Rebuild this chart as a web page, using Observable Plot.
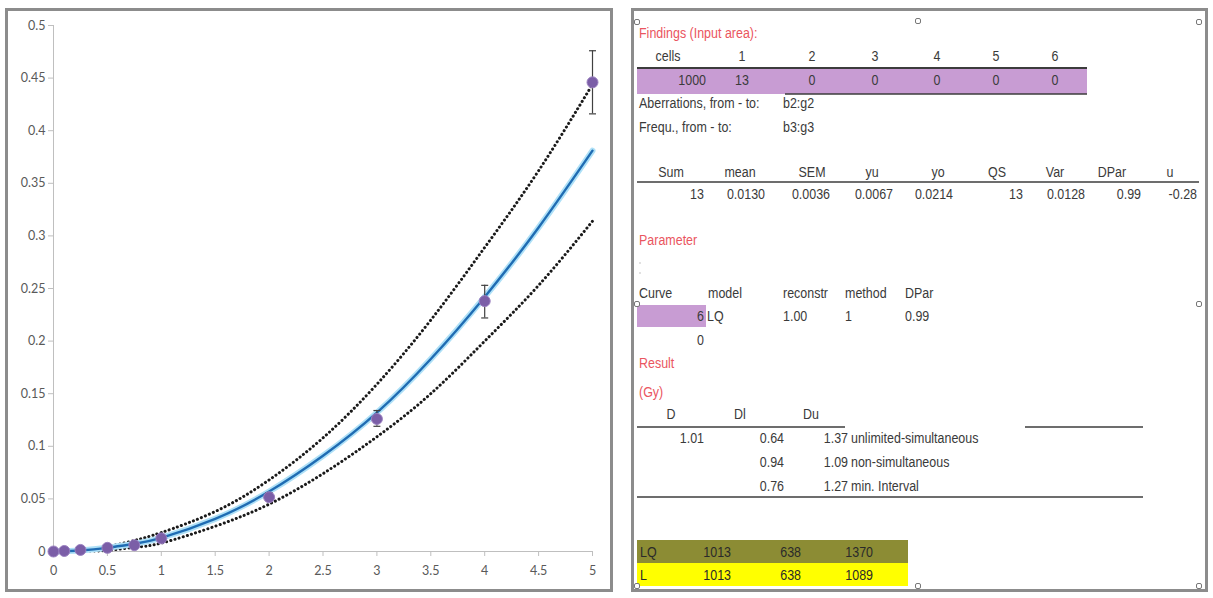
<!DOCTYPE html>
<html>
<head>
<meta charset="utf-8">
<script src="https://cdn.jsdelivr.net/npm/d3@7"></script>
<script src="https://cdn.jsdelivr.net/npm/@observablehq/plot@0.6"></script>
<style>
  html, body { margin: 0; padding: 0; background: #fff; }
  body { width: 1213px; height: 598px; position: relative; overflow: hidden; }
  #left { position: absolute; left: 5px; top: 8px; width: 602px; height: 578px; border: 3px solid #8c8c8c; background: #fff; }
  #right { position: absolute; left: 631px; top: 8px; width: 571px; height: 578px; border: 3px solid #8c8c8c; background: #fff; }
  #table { position: absolute; left: 0; top: 0; }
</style>
</head>
<body>
<div id="left"></div>
<div id="right"></div>
<svg id="table" width="1213" height="598"></svg>
<script>
// ---------- chart data ----------
const obsDose = [0, 0.1, 0.25, 0.5, 0.75, 1, 2, 3, 4, 5];
const obsFreq = [0, 0.0005, 0.0015, 0.0035, 0.006, 0.0125, 0.0516, 0.126, 0.238, 0.446];
const obsLow  = [null, null, null, null, null, null, 0.048, 0.119, 0.222, 0.416];
const obsHigh = [null, null, null, null, null, null, 0.056, 0.134, 0.253, 0.476];

const fitDose = [0, 0.25, 0.5, 0.75, 1, 1.5, 2, 2.5, 3, 3.5, 4, 4.5, 5];
const fitFreq = [0, 0.001, 0.0035, 0.0073, 0.013, 0.031, 0.057, 0.091, 0.132, 0.183, 0.242, 0.308, 0.381];

const bandDose  = [0.3, 0.5, 0.75, 1, 1.5, 2, 2.5, 3, 3.5, 4, 4.5, 5];
const bandUpper = [0.002, 0.0045, 0.0105, 0.018, 0.038, 0.068, 0.108, 0.159, 0.220, 0.289, 0.362, 0.444];
const bandLower = [0.0005, 0.001, 0.004, 0.008, 0.024, 0.045, 0.074, 0.109, 0.150, 0.200, 0.253, 0.314];

const xTicks = [0, 0.5, 1, 1.5, 2, 2.5, 3, 3.5, 4, 4.5, 5];
const yTicks = [0, 0.05, 0.1, 0.15, 0.2, 0.25, 0.3, 0.35, 0.4, 0.45, 0.5];

// ---------- table data ----------
const findingsTitle = "Findings (Input area):";
const findingsHeader = ["cells", "1", "2", "3", "4", "5", "6"];
const findingsValues = ["1000", "13", "0", "0", "0", "0", "0"];
const rangeLabels = [["Aberrations, from - to:", "b2:g2"], ["Frequ., from - to:", "b3:g3"]];
const statsHeader = ["Sum", "mean", "SEM", "yu", "yo", "QS", "Var", "DPar", "u"];
const statsValues = ["13", "0.0130", "0.0036", "0.0067", "0.0214", "13", "0.0128", "0.99", "-0.28"];
const parameterTitle = "Parameter";
const paramHeader = ["Curve", "model", "reconstr", "method", "DPar"];
const paramValues = ["6", "LQ", "1.00", "1", "0.99"];
const paramExtra = "0";
const resultTitle = "Result";
const unitTitle = "(Gy)";
const resultHeader = ["D", "Dl", "Du"];
const resultRows = [
  ["1.01", "0.64", "1.37", "unlimited-simultaneous"],
  ["", "0.94", "1.09", "non-simultaneous"],
  ["", "0.76", "1.27", "min.  Interval"]
];
const summaryRows = [
  ["LQ", "1013", "638", "1370"],
  ["L", "1013", "638", "1089"]
];

// ---------- chart ----------
const obs = obsDose.map((d, i) => ({dose: d, freq: obsFreq[i], lo: obsLow[i], hi: obsHigh[i]}));
const errs = obs.filter(d => d.lo != null);
const fit = fitDose.map((d, i) => ({dose: d, freq: fitFreq[i]}));
const band = bandDose.map((d, i) => ({dose: d, upper: bandUpper[i], lower: bandLower[i]}));

const capSymbol = {
  draw(context) { context.moveTo(-3.5, 0); context.lineTo(3.5, 0); }
};
const fmt = d => String(+d.toFixed(2));

const chart = Plot.plot({
  width: 602,
  height: 578,
  marginLeft: 45,
  marginRight: 18,
  marginTop: 14,
  marginBottom: 38,
  style: {fontFamily: "Lato, 'Open Sans', sans-serif", fontSize: "12.5px", background: "#fff"},
  x: {domain: [0, 5]},
  y: {domain: [0, 0.5]},
  marks: [
    Plot.axisX({ticks: xTicks, tickFormat: fmt, tickSize: 5, tickPadding: 10, stroke: "#bfbfbf", fill: "#595959", label: null}),
    Plot.axisY({ticks: yTicks, tickFormat: fmt, tickSize: 5, tickPadding: 3, stroke: "#bfbfbf", fill: "#595959", label: null}),
    Plot.ruleX([0], {stroke: "#bfbfbf"}),
    Plot.ruleY([0], {stroke: "#bfbfbf"}),
    Plot.line(band, {x: "dose", y: "upper", curve: "natural", stroke: "#1a1a1a", strokeWidth: 3, strokeDasharray: "0.1 4.2", strokeLinecap: "round"}),
    Plot.line(band, {x: "dose", y: "lower", curve: "natural", stroke: "#1a1a1a", strokeWidth: 3, strokeDasharray: "0.1 4.2", strokeLinecap: "round"}),
    Plot.line(fit, {x: "dose", y: "freq", curve: "natural", stroke: "#aee0f7", strokeWidth: 6}),
    Plot.line(fit, {x: "dose", y: "freq", curve: "natural", stroke: "#1f6cb3", strokeWidth: 2.4}),
    Plot.ruleX(errs, {x: "dose", y1: "lo", y2: "hi", stroke: "#404040", strokeWidth: 1.2}),
    Plot.dot(errs, {x: "dose", y: "lo", symbol: capSymbol, stroke: "#404040", fill: "none", strokeWidth: 1.2}),
    Plot.dot(errs, {x: "dose", y: "hi", symbol: capSymbol, stroke: "#404040", fill: "none", strokeWidth: 1.2}),
    Plot.dot(obs, {x: "dose", y: "freq", r: 5.5, fill: "#7b5ea7", stroke: "#9a80c0", strokeWidth: 1})
  ]
});
document.getElementById("left").appendChild(chart);

// ---------- table ----------
const svg = d3.select("#table");
const FONT = "'Liberation Sans', Arial, sans-serif";
const TXT = "#3a3a3a";
const RED = "#ea5560";

// narrow text (Arial Narrow look): Liberation Sans squeezed horizontally
function text(x, y, s, anchor = "start", color = TXT) {
  svg.append("text")
    .attr("transform", `translate(${x},${y}) scale(0.86,1)`)
    .attr("dy", "0.35em")
    .attr("text-anchor", anchor).attr("fill", color)
    .attr("font-family", FONT).attr("font-size", 14.5).text(s);
}
function rect(x, y, w, h, fill) {
  svg.append("rect").attr("x", x).attr("y", y).attr("width", w).attr("height", h).attr("fill", fill);
}
function hline(x1, x2, y, w = 1.5, color = "#3c3c3c") {
  svg.append("line").attr("x1", x1).attr("x2", x2).attr("y1", y).attr("y2", y)
    .attr("stroke", color).attr("stroke-width", w);
}

// findings
text(639, 33, findingsTitle, "start", RED);
const fCols = [668, 742, 812, 875, 937, 996, 1055];
findingsHeader.forEach((s, i) => text(fCols[i], 56, s, "middle"));
rect(637, 68, 450, 26, "#c89cd3");
hline(637, 1087, 68, 2);
hline(785, 1087, 94, 1.5);
findingsValues.forEach((s, i) => i === 0 ? text(706, 80, s, "end") : text(fCols[i], 80, s, "middle"));
rangeLabels.forEach(([a, b], i) => { text(639, 103 + i * 24, a); text(783, 103 + i * 24, b); });

// stats
const sHead = [671, 740, 812, 872, 938, 997, 1055, 1112, 1170];
const sVal = [704, 765, 830, 893, 953, 1023, 1085, 1141, 1197];
statsHeader.forEach((s, i) => text(sHead[i], 172, s, "middle"));
hline(637, 1199, 182, 1.5);
statsValues.forEach((s, i) => text(sVal[i], 194, s, "end"));

// parameter
text(639, 240, parameterTitle, "start", RED);
svg.append("circle").attr("cx", 640).attr("cy", 263).attr("r", 0.8).attr("fill", "#bbb");
svg.append("circle").attr("cx", 640).attr("cy", 273).attr("r", 0.8).attr("fill", "#bbb");
const pCols = [639, 708, 783, 845, 905];
paramHeader.forEach((s, i) => text(pCols[i], 293, s));
rect(637, 305, 69, 22, "#c89cd3");
paramValues.forEach((s, i) => i === 0 ? text(704, 316, s, "end") : text(i === 1 ? 707 : pCols[i], 316, s));
text(704, 340, paramExtra, "end");

// result
text(639, 363, resultTitle, "start", RED);
text(639, 392, unitTitle, "start", RED);
const rHead = [671, 740, 811];
resultHeader.forEach((s, i) => text(rHead[i], 414, s, "middle"));
hline(637, 845, 427, 1.5);
hline(1025, 1143, 427, 1.5);
resultRows.forEach((row, r) => {
  const y = 438 + r * 24;
  if (row[0]) text(704, y, row[0], "end");
  text(784, y, row[1], "end");
  text(848, y, row[2], "end");
  text(851, y, row[3]);
});
hline(637, 1143, 497, 1.5);

// summary bands
const bandColors = ["#8c8c34", "#ffff00"];
const sumCols = [[640, "start"], [731, "end"], [801, "end"], [873, "end"]];
summaryRows.forEach((row, r) => {
  const y0 = 540 + r * 23;
  rect(637, y0, 271, 23, bandColors[r]);
  row.forEach((s, i) => text(sumCols[i][0], y0 + 12, s, sumCols[i][1], "#2a2a2a"));
});

// selection handles
[[637, 22], [918, 21], [1199, 22], [637, 304], [1199, 304], [637, 586], [918, 586], [1199, 586]].forEach(([x, y]) => {
  svg.append("rect").attr("x", x - 2.5).attr("y", y - 2.5).attr("width", 5).attr("height", 5)
    .attr("rx", 1.5).attr("fill", "#fff").attr("stroke", "#777").attr("stroke-width", 1);
});
</script>
</body>
</html>
